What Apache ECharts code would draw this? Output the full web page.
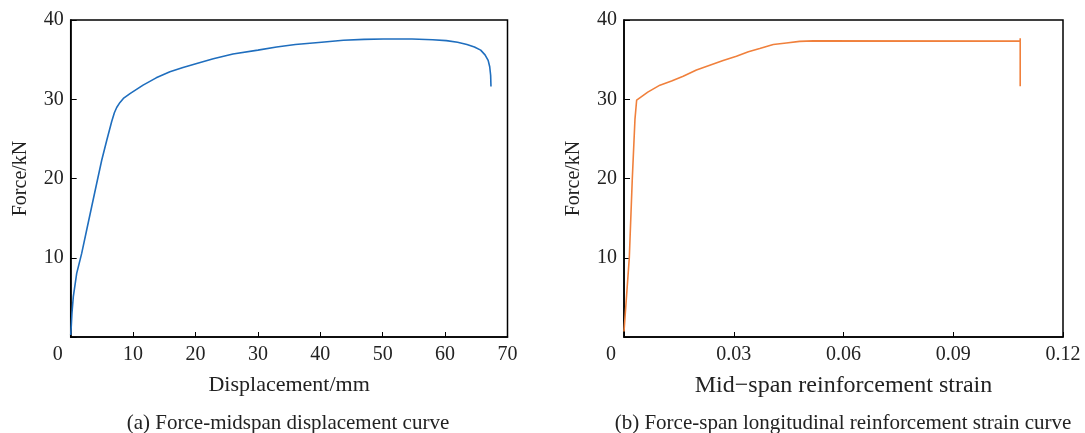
<!DOCTYPE html>
<html>
<head>
<meta charset="utf-8">
<script src="https://cdn.jsdelivr.net/npm/echarts@6/dist/echarts.min.js"></script>
<style>
html,body{margin:0;padding:0;background:#fff;}
#chart{width:1085px;height:433px;}
</style>
</head>
<body>
<div id="chart"></div>
<script>
// Panel (a): Force vs mid-span displacement
const dispX = [0, 0.1, 0.2, 0.42, 0.96, 1.76, 2.56, 3.36, 4.17, 4.97, 5.77, 6.57, 7.0, 7.37, 7.9, 8.44, 9.5, 11.6, 13.7, 15.9, 18.0, 20.2, 22.85, 26, 30, 33, 36, 40.2, 43.7, 47, 50.1, 54.7, 58, 60.2, 62, 63.5, 64.7, 65.7, 66.4, 66.9, 67.15, 67.3, 67.35];
const dispF = [0.25, 1.5, 3.0, 5.09, 8.03, 10.55, 13.5, 16.43, 19.4, 22.3, 24.8, 27.2, 28.3, 28.96, 29.6, 30.1, 30.7, 31.78, 32.7, 33.46, 34.0, 34.5, 35.1, 35.7, 36.2, 36.6, 36.9, 37.2, 37.45, 37.55, 37.6, 37.6, 37.5, 37.4, 37.2, 36.9, 36.6, 36.2, 35.6, 34.9, 34.1, 33.0, 31.6];
// Panel (b): Force vs mid-span reinforcement strain
const strainX = [0, 0.00145, 0.00227, 0.00300, 0.00346, 0.0065, 0.00982, 0.013, 0.01618, 0.0198, 0.02345, 0.0271, 0.03073, 0.034, 0.0371, 0.0408, 0.04437, 0.048, 0.05164, 0.1083, 0.1083, 0.1083];
const strainF = [0.7, 10, 20, 27.5, 29.9, 30.9, 31.78, 32.3, 32.9, 33.7, 34.3, 34.9, 35.43, 36.0, 36.4, 36.9, 37.1, 37.3, 37.37, 37.33, 37.7, 31.65];

const xTicksA = [0, 10, 20, 30, 40, 50, 60, 70];
const xTicksB = [0, 0.03, 0.06, 0.09, 0.12];
const yTicks = [0, 10, 20, 30, 40];

const FONT = 'Liberation Serif';
const TXT = '#222';

function pairs(xs, ys){ return xs.map((x,i)=>[x, ys[i]]); }

function xAxisCfg(idx, ticks, name, nameSize){
  const step = ticks[1]-ticks[0];
  return {
    gridIndex: idx, type: 'value',
    min: ticks[0], max: ticks[ticks.length-1], interval: step,
    name: name, nameLocation: 'middle', nameGap: 37,
    nameTextStyle: {fontFamily: FONT, fontSize: nameSize, color: TXT},
    axisLine: {show: true, lineStyle: {color: '#000', width: 1.5}},
    axisTick: {show: true, inside: true, length: 5, lineStyle: {color: '#000', width: 1}},
    splitLine: {show: false},
    axisLabel: {
      fontFamily: FONT, fontSize: 20, color: TXT, margin: 8,
      formatter: function(v){ return v === 0 ? '{z|0}' : String(v); },
      rich: {z: {fontFamily: FONT, fontSize: 20, color: TXT, padding: [0, 26, 0, 0]}}
    }
  };
}
function yAxisCfg(idx){
  return {
    gridIndex: idx, type: 'value',
    min: yTicks[0], max: yTicks[yTicks.length-1], interval: yTicks[1]-yTicks[0],
    name: 'Force/kN', nameLocation: 'middle', nameGap: 40,
    nameTextStyle: {fontFamily: FONT, fontSize: 20, color: TXT},
    axisLine: {show: true, lineStyle: {color: '#000', width: 1.5}},
    axisTick: {show: true, inside: true, length: 6, lineStyle: {color: '#000', width: 1}},
    splitLine: {show: false},
    axisLabel: {
      fontFamily: FONT, fontSize: 20, color: TXT, margin: 7,
      formatter: function(v){ return v === 0 ? '' : String(v); }
    }
  };
}

const chart = echarts.init(document.getElementById('chart'), null, {renderer: 'canvas'});
chart.setOption({
  animation: false,
  backgroundColor: '#fff',
  title: [
    {text: '(a) Force-midspan displacement curve', left: 288, top: 412, textAlign: 'center', padding: 0,
     textStyle: {fontFamily: FONT, fontSize: 21, fontWeight: 'normal', color: TXT, lineHeight: 22}},
    {text: '(b) Force-span longitudinal reinforcement strain curve', left: 843, top: 412, textAlign: 'center', padding: 0,
     textStyle: {fontFamily: FONT, fontSize: 21, fontWeight: 'normal', color: TXT, lineHeight: 22}}
  ],
  grid: [
    {left: 70.7, right: 577.5, top: 20, bottom: 96, show: true, borderColor: '#000', borderWidth: 1.5, containLabel: false},
    {left: 624, right: 22, top: 20, bottom: 96, show: true, borderColor: '#000', borderWidth: 1.5, containLabel: false}
  ],
  xAxis: [
    xAxisCfg(0, xTicksA, 'Displacement/mm', 22),
    xAxisCfg(1, xTicksB, 'Mid\u2212span reinforcement strain', 24)
  ],
  yAxis: [yAxisCfg(0), yAxisCfg(1)],
  series: [
    {type: 'line', xAxisIndex: 0, yAxisIndex: 0, data: pairs(dispX, dispF),
     showSymbol: false, smooth: false,
     lineStyle: {color: '#1F6EBE', width: 1.6}},
    {type: 'line', xAxisIndex: 1, yAxisIndex: 1, data: pairs(strainX, strainF),
     showSymbol: false, smooth: false,
     lineStyle: {color: '#F0803C', width: 1.6}}
  ]
});
</script>
</body>
</html>
